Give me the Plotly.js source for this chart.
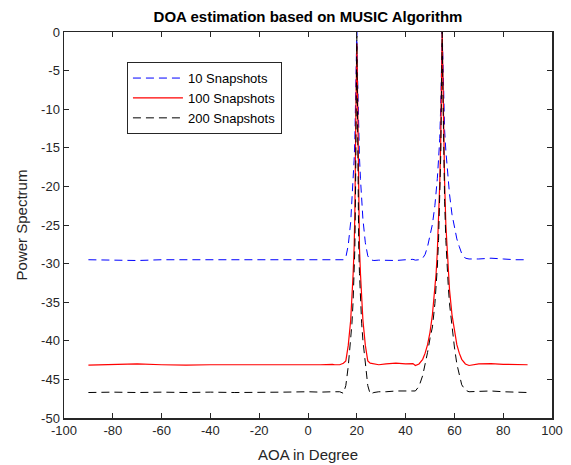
<!DOCTYPE html>
<html>
<head>
<meta charset="utf-8">
<script src="https://cdn.plot.ly/plotly-3.0.1.min.js"></script>
<style>html,body{margin:0;padding:0;background:#fff;}#chart{width:571px;height:465px;}</style>
</head>
<body>
<div id="chart"></div>
<script>
// Angle grid (degrees), finer around the two sources at 20 and 55
const aoa = [
  -90,-80,-70,-60,-50,-40,-30,-20,-10,0,5,10,
  11,13,14.5,15.5,16.5,17.5,18,18.5,18.9,19.2,19.5,19.75,20,20.25,20.5,20.8,21.1,21.5,22,22.5,23.5,24.5,25.5,27,29,
  32,36,40,43,
  44,45.5,47,48,49,50,51,52,52.5,53,53.5,54,54.4,54.7,55,55.3,55.6,56,56.5,57,57.5,58,59,60,61,62,63,64.5,66,
  70,75,80,85,90
];

const snap10 = [
  -29.5,-29.55,-29.6,-29.5,-29.5,-29.55,-29.5,-29.5,-29.55,-29.5,-29.5,-29.5,
  -29.5,-29.55,-29.5,-29.2,-27.6,-24.6,-22.1,-19.3,-16.6,-14.0,-9.8,-5.0,0,-4.8,-9.5,-13.6,-16.3,-19.0,-21.8,-24.2,-27.3,-29.0,-29.5,-29.6,-29.55,
  -29.55,-29.6,-29.5,-29.45,
  -29.55,-29.5,-29.3,-28.8,-27.8,-26.4,-24.9,-22.5,-20.9,-19.0,-16.5,-13.8,-9.5,-4.5,0,-3.5,-8.5,-12.8,-15.4,-17.6,-19.6,-21.0,-23.6,-25.3,-26.8,-27.8,-28.7,-29.3,-29.4,
  -29.4,-29.3,-29.4,-29.5,-29.5
];

const snap100 = [
  -43.15,-43.1,-43.0,-43.1,-43.15,-43.1,-43.1,-43.15,-43.1,-43.1,-43.1,-43.05,
  -43.1,-43.1,-42.9,-42.6,-40.6,-37.3,-34.8,-31.3,-28.0,-23.5,-14.0,-6.5,-1.5,-6.5,-14.0,-23.5,-28.0,-31.3,-34.8,-37.3,-40.6,-42.6,-42.9,-43.0,-43.1,
  -43.0,-42.9,-43.0,-42.95,
  -43.2,-43.0,-42.4,-41.6,-40.5,-38.9,-36.6,-33.4,-31.3,-28.5,-25.0,-19.5,-14.0,-6.0,0,-6.0,-14.0,-19.5,-25.0,-28.5,-31.3,-33.4,-36.6,-38.9,-40.5,-41.6,-42.4,-43.0,-43.2,
  -43.0,-42.95,-43.05,-43.1,-43.1
];

const snap200 = [
  -46.7,-46.65,-46.7,-46.65,-46.7,-46.65,-46.7,-46.7,-46.65,-46.6,-46.65,-46.6,
  -46.6,-46.6,-46.8,-45.8,-43.3,-39.9,-37.8,-34.8,-31.3,-28.0,-20.0,-9.0,-0.5,-9.0,-20.0,-28.0,-31.3,-34.8,-37.8,-39.9,-43.3,-45.8,-46.9,-46.7,-46.6,
  -46.6,-46.5,-46.45,-46.5,
  -46.5,-45.9,-44.5,-43.2,-41.5,-39.7,-38.2,-35.2,-33.0,-30.5,-27.0,-22.0,-16.0,-8.0,0,-8.0,-16.0,-22.0,-27.0,-30.5,-33.0,-35.2,-38.2,-40.8,-43.0,-44.6,-45.7,-46.4,-46.6,
  -46.55,-46.5,-46.6,-46.65,-46.7
];

const seriesNames = ['10 Snapshots','100 Snapshots','200 Snapshots'];
const xTicks = [-100,-80,-60,-40,-20,0,20,40,60,80,100];
const yTicks = [0,-5,-10,-15,-20,-25,-30,-35,-40,-45,-50];

const traces = [
  {x: aoa, y: snap10, name: seriesNames[0], mode: 'lines', line: {color: 'rgb(0,0,255)', width: 1, dash: '8px,5px'}},
  {x: aoa, y: snap100, name: seriesNames[1], mode: 'lines', line: {color: 'rgb(255,0,0)', width: 1.2}},
  {x: aoa, y: snap200, name: seriesNames[2], mode: 'lines', line: {color: 'rgb(0,0,0)', width: 1, dash: '8px,5px'}}
];

const axisCommon = {
  showgrid: false, zeroline: false, showline: true, linecolor: '#262626', linewidth: 1.5,
  mirror: 'ticks', ticks: 'inside', ticklen: 5, tickwidth: 1, tickcolor: '#262626',
  tickfont: {family: 'Liberation Sans, Arial, sans-serif', size: 13, color: '#262626'},
  automargin: false
};

const layout = {
  width: 571, height: 465,
  margin: {l: 64, r: 19, t: 32, b: 47},
  paper_bgcolor: '#ffffff', plot_bgcolor: '#ffffff',
  font: {family: 'Liberation Sans, Arial, sans-serif', color: '#262626'},
  title: {text: '<b>DOA estimation based on MUSIC Algorithm</b>', x: 0.5, xref: 'paper', xanchor: 'center', yref: 'container', y: 0.963, yanchor: 'middle', font: {size: 15, color: '#000'}},
  xaxis: Object.assign({}, axisCommon, {
    range: [-100, 100], tickvals: xTicks, ticktext: xTicks.map(String),
    title: {text: 'AOA in Degree', font: {size: 15, color: '#262626'}, standoff: 12}
  }),
  yaxis: Object.assign({}, axisCommon, {
    range: [-50, 0], tickvals: yTicks, ticktext: yTicks.map(String),
    title: {text: 'Power Spectrum', font: {size: 15, color: '#262626'}, standoff: 10}
  }),
  showlegend: true,
  legend: {
    x: 0.129, y: 0.922, xanchor: 'left', yanchor: 'top',
    bgcolor: '#ffffff', bordercolor: '#262626', borderwidth: 1,
    font: {size: 13, color: '#000'}, tracegroupgap: 0, itemwidth: 50
  }
};

Plotly.newPlot('chart', traces, layout, {displayModeBar: false, staticPlot: true});
</script>
</body>
</html>
